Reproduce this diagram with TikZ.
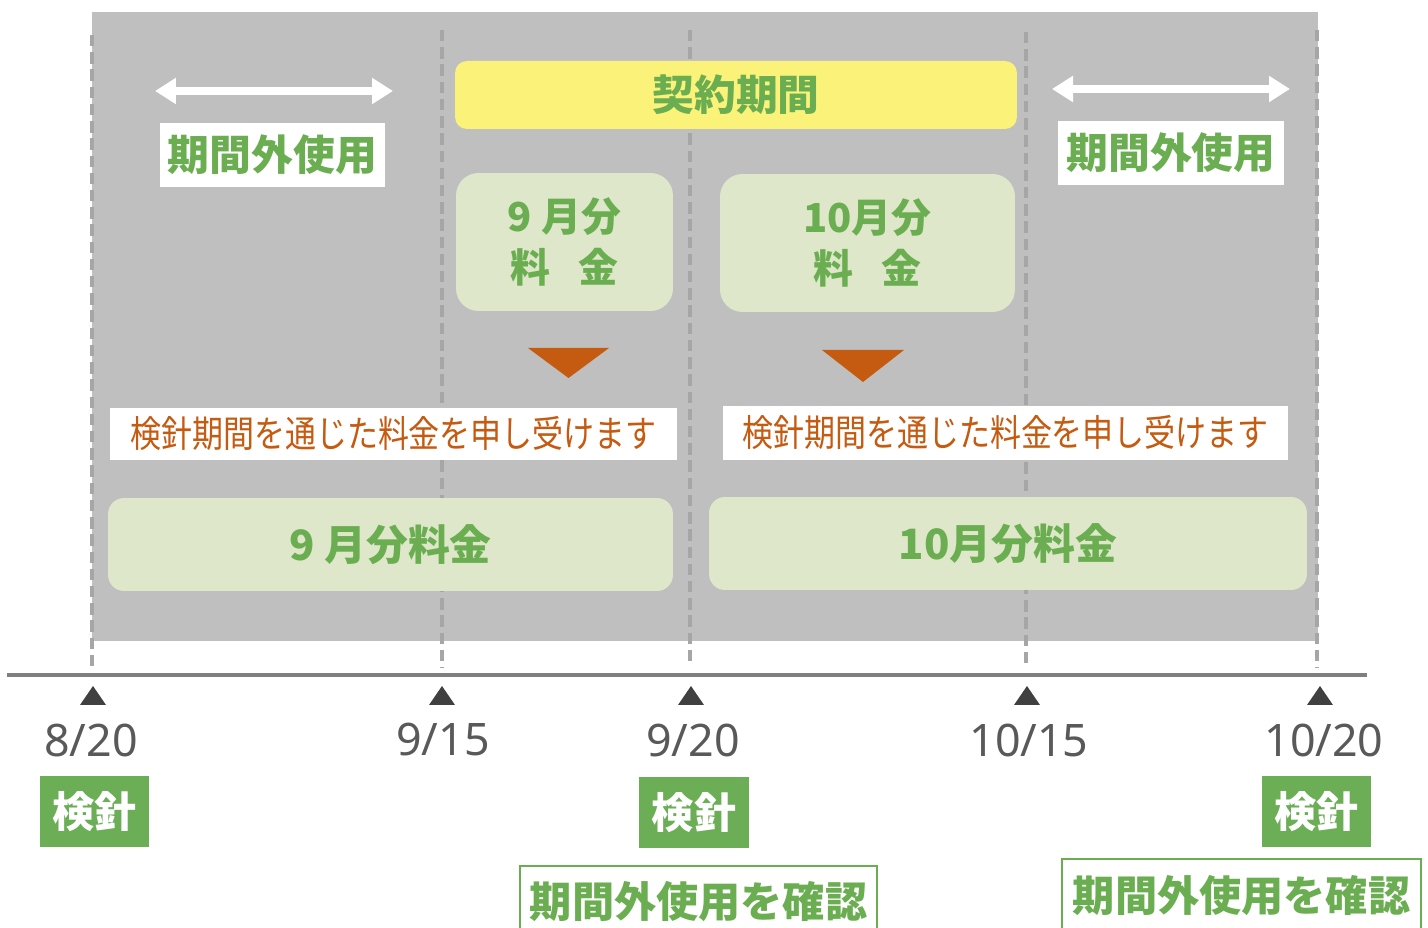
\documentclass[tikz,border=0pt]{standalone}
\usepackage{fontspec}
\usetikzlibrary{arrows.meta}
\newfontfamily\jp{Noto Sans CJK JP}
\newfontfamily\latn{Noto Sans}
\definecolor{bggray}{HTML}{BFBFBF}
\definecolor{dashgray}{HTML}{A6A6A6}
\definecolor{ylw}{HTML}{FBF27A}
\definecolor{lgreen}{HTML}{DEE7CA}
\definecolor{grn}{HTML}{6BAE51}
\definecolor{grnbox}{HTML}{6BAE55}
\definecolor{orng}{HTML}{C55A11}
\definecolor{axisgray}{HTML}{7F7F7F}
\definecolor{tri}{HTML}{404040}
\definecolor{datec}{HTML}{595959}
\tikzset{
  dashline/.style={draw=dashgray, line width=2.1pt, dash pattern=on 6.5pt off 3.3pt},
  greentext/.style={text=grn, font={\jp\bfseries\fontsize{23.8}{29.5}\selectfont}},
  yellowbox/.style={fill=ylw, rounded corners=0.24cm, inner sep=0pt, greentext},
  feebox/.style={fill=lgreen, rounded corners=0.45cm, inner sep=0pt, greentext, align=center,
    font={\jp\bfseries\fontsize{22.7}{29.5}\selectfont}},
  barbox/.style={fill=lgreen, rounded corners=0.32cm, inner sep=0pt, greentext},
  outbox/.style={fill=white, inner sep=0pt, greentext},
  notebox/.style={fill=white, inner sep=0pt, text=orng, font={\jp\fontsize{21}{25}\selectfont}},
  kenshin/.style={fill=grnbox, inner sep=0pt, text=white, font={\jp\bfseries\fontsize{24}{28}\selectfont}},
  checkbox/.style={draw=grn, line width=1.3pt, fill=white, inner sep=0pt, greentext, font={\jp\bfseries\fontsize{24}{28}\selectfont}},
  datelabel/.style={text=datec, font={\latn\fontsize{25.5}{30}\selectfont}, inner sep=0pt},
  wharrow/.style={draw=white, line width=4pt, {Triangle[length=0.42cm,width=0.5cm]}-{Triangle[length=0.42cm,width=0.5cm]}},
  uptri/.style={fill=tri},
  downtri/.style={fill=orng},
}
\begin{document}
\begin{tikzpicture}[x=0.02cm, y=-0.02cm]
\useasboundingbox (0,0) rectangle (1428,928);
\fill[white] (0,0) rectangle (1428,928);
% background band
\fill[bggray] (92,12) rectangle (1318,641);
% dashed verticals
\draw[dashline] (92,35) -- (92,668);
\draw[dashline] (442,30) -- (442,668);
\draw[dashline] (690,30) -- (690,666);
\draw[dashline] (1026,32) -- (1026,668);
\draw[dashline] (1317,30) -- (1317,668);
% top arrows
\coordinate (la1) at (155,91);
\coordinate (la2) at (393,91);
\coordinate (ra1) at (1052,89);
\coordinate (ra2) at (1290,89);
\draw[wharrow] (la1) -- (la2);
\draw[wharrow] (ra1) -- (ra2);
% out-of-period labels
\node[outbox, minimum width=4.5cm, minimum height=1.28cm] (outL) at (272.5,155) {期間外使用};
\node[outbox, minimum width=4.52cm, minimum height=1.28cm] (outR) at (1171,153) {期間外使用};
% contract period
\node[yellowbox, minimum width=11.24cm, minimum height=1.36cm] (contract) at (736,95) {契約期間};
% monthly fee boxes
\node[feebox, minimum width=4.34cm, minimum height=2.76cm] (sep) at (564.5,242) {9 月分\\料\hspace{0.72em}金};
\node[feebox, minimum width=5.9cm, minimum height=2.76cm] (oct) at (867.5,243) {10月分\\料\hspace{0.72em}金};
% orange down triangles
\fill[downtri] (528,348) -- (609,348) -- (568.5,378) -- cycle;
\fill[downtri] (822,350) -- (904,350) -- (863,382) -- cycle;
% notes
\node[notebox, minimum width=11.34cm, minimum height=1.04cm] (noteL) at (393.5,434) {\scalebox{0.84}[1]{検針期間を通じた料金を申し受けます}};
\node[notebox, minimum width=11.3cm, minimum height=1.08cm] (noteR) at (1005.5,433) {\scalebox{0.84}[1]{検針期間を通じた料金を申し受けます}};
% fee bars
\node[barbox, minimum width=11.3cm, minimum height=1.86cm] (barL) at (390.5,544.5) {9 月分料金};
\node[barbox, minimum width=11.96cm, minimum height=1.86cm] (barR) at (1008,543.5) {10月分料金};
% axis
\coordinate (ax1) at (7,675);
\coordinate (ax2) at (1367,675);
\draw[draw=axisgray, line width=2.3pt] (ax1) -- (ax2);
% triangles
\foreach \xx in {93,442,691,1027,1320}{
  \fill[uptri] (\xx-13,705) -- (\xx+13,705) -- (\xx,686) -- cycle;
}
% dates
\node[datelabel] (d1) at (91,740) {8/20};
\node[datelabel] (d2) at (443,740) {9/15};
\node[datelabel] (d3) at (693,740) {9/20};
\node[datelabel] (d4) at (1029,740) {10/15};
\node[datelabel] (d5) at (1324,740) {10/20};
% meter reading boxes
\node[kenshin, minimum width=2.18cm, minimum height=1.42cm] (k1) at (94.5,811.5) {検針};
\node[kenshin, minimum width=2.2cm, minimum height=1.42cm] (k2) at (694,812.5) {検針};
\node[kenshin, minimum width=2.18cm, minimum height=1.42cm] (k3) at (1316.5,811.5) {検針};
% confirmation boxes
\node[checkbox, minimum width=7.14cm, minimum height=1.7cm, anchor=north] (c1) at (698.5,865) {};
\node[greentext, font={\jp\bfseries\fontsize{24}{28}\selectfont}] (c1t) at (698.5,902) {期間外使用を確認};
\node[checkbox, minimum width=7.18cm, minimum height=1.7cm, anchor=north] (c2) at (1241.5,858) {};
\node[greentext, font={\jp\bfseries\fontsize{24}{28}\selectfont}] (c2t) at (1241.5,896) {期間外使用を確認};
\end{tikzpicture}
\end{document}
